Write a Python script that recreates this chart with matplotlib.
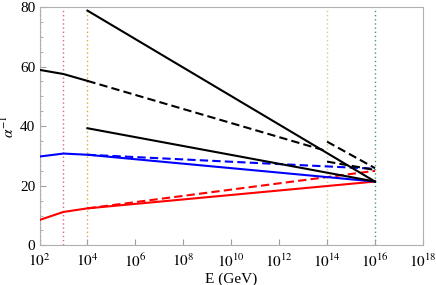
import numpy as np
import matplotlib
matplotlib.use('Agg')
import matplotlib.pyplot as plt
from matplotlib.ticker import FixedLocator, MultipleLocator, NullLocator

plt.rcParams['font.family'] = ['Liberation Serif', 'DejaVu Serif']
plt.rcParams['mathtext.fontset'] = 'stix'

# log10(E/GeV) for each line, and alpha^-1 values
red_x = [2, 3, 4, 16]
red_y = [8.5, 11.2, 12.4, 21.4]
red_dash_x = [4, 16]
red_dash_y = [12.4, 25.0]

blue_x = [2, 3, 4, 16]
blue_y = [29.8, 30.8, 30.4, 21.4]
blue_dash_x = [4, 16]
blue_dash_y = [30.4, 25.7]

black_top_x = [4, 16]
black_top_y = [78.8, 21.4]
black_mid_x = [2, 3, 4]
black_mid_y = [58.9, 57.5, 55.2]
black_mid_dash_x = [4, 14]
black_mid_dash_y = [55.2, 31.6]
black_low_x = [4, 16]
black_low_y = [39.3, 21.4]
black_dash_a_x = [14, 16]
black_dash_a_y = [34.8, 25.9]
black_dash_b_x = [14, 16]
black_dash_b_y = [28.1, 25.3]

# thresholds (vertical dotted lines)
thr_x = [2, 3, 4, 14, 16]
thr_col = ['#7c7cd0', '#e0609c', '#ccb040', '#d6c890', '#38a070']

xticks = [2, 4, 6, 8, 10, 12, 14, 16, 18]

fig = plt.figure(figsize=(4.36, 2.85), dpi=100)
ax = fig.add_axes([0.0906, 0.1393, 0.8794, 0.8361])

for t, c in zip(thr_x, thr_col):
    ax.axvline(10.0**t, color=c, ls=(0, (1, 2)), lw=1.0, zorder=1)

lw = 1.5
dash = (0, (4, 2))
def pl(x, y, col, ls='-'):
    ax.plot(10.0**np.array(x), y, color=col, lw=lw, ls=ls, zorder=3)

pl(red_x, red_y, '#ff0000')
pl(red_dash_x, red_dash_y, '#ff0000', dash)
pl(blue_x, blue_y, '#0000ff')
pl(blue_dash_x, blue_dash_y, '#0000ff', dash)
pl(black_top_x, black_top_y, 'black')
pl(black_mid_x, black_mid_y, 'black')
pl(black_mid_dash_x, black_mid_dash_y, 'black', dash)
pl(black_low_x, black_low_y, 'black')
pl(black_dash_a_x, black_dash_a_y, 'black', dash)
pl(black_dash_b_x, black_dash_b_y, 'black', dash)

ax.set_xscale('log')
ax.set_xlim(1e2, 1e18)
ax.set_ylim(0, 80)
ax.xaxis.set_major_locator(FixedLocator([10.0**k for k in xticks]))
ax.xaxis.set_minor_locator(NullLocator())
ax.set_xticklabels(['$10^{%d}$' % k for k in xticks])
ax.yaxis.set_major_locator(MultipleLocator(20))
ax.yaxis.set_minor_locator(MultipleLocator(5))

for s in ax.spines.values():
    s.set_color('#b0b0b0')
    s.set_linewidth(0.8)
ax.tick_params(which='both', direction='in', color='#a0a0a0', labelsize=11,
               top=False, right=False)
ax.tick_params(which='major', length=4)
ax.tick_params(which='minor', length=2)
ax.tick_params(axis='x', pad=5)
ax.tick_params(axis='y', pad=3)

ax.set_xlabel('E (GeV)', fontsize=11, labelpad=2)
ax.set_ylabel(r'$\alpha^{-1}$', fontsize=11, labelpad=2)

fig.savefig('out.png', dpi=100)
